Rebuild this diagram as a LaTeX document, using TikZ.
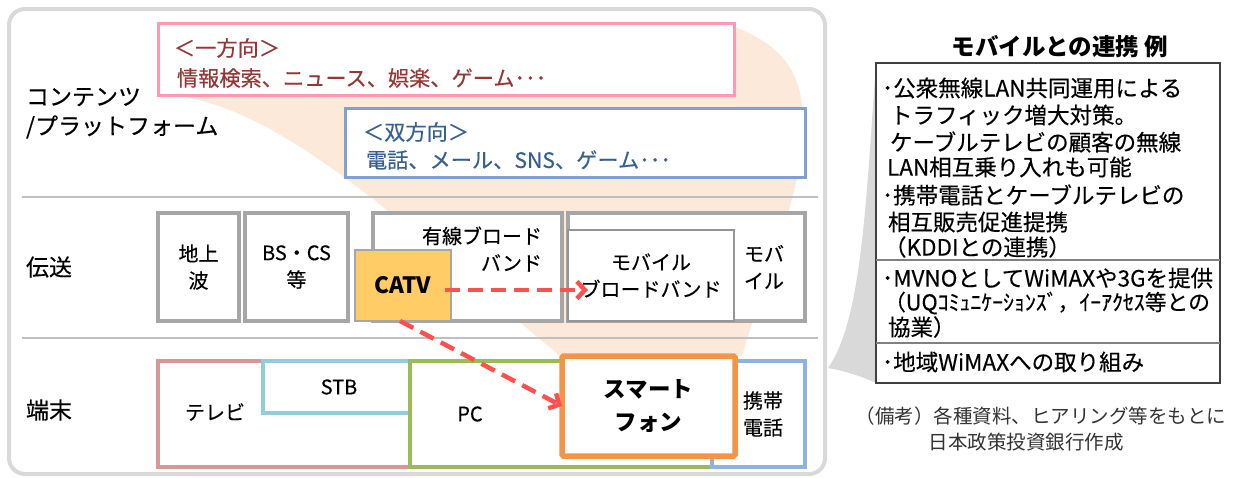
\documentclass[tikz,border=0pt]{standalone}
\usepackage{fontspec}
\setmainfont{Noto Sans CJK JP}
\newfontfamily\jpheavy{Noto Sans CJK JP}[FakeBold=0.35]
\usetikzlibrary{arrows.meta,calc}
\definecolor{mainborder}{HTML}{D9D9D9}
\definecolor{divider}{HTML}{BFBFBF}
\definecolor{peach}{HTML}{FDE9D9}
\definecolor{pinkbox}{HTML}{FF99B3}
\definecolor{pinktext}{HTML}{953735}
\definecolor{bluebox}{HTML}{7EA1CF}
\definecolor{bluetext}{HTML}{376092}
\definecolor{boxgray}{HTML}{A6A6A6}
\definecolor{catvfill}{HTML}{FFCC66}
\definecolor{arrowred}{HTML}{FF5050}
\definecolor{tvcol}{HTML}{D99694}
\definecolor{stbcol}{HTML}{93CDDD}
\definecolor{pccol}{HTML}{9BBB59}
\definecolor{phonecol}{HTML}{8DB3E2}
\definecolor{smartcol}{HTML}{F39548}
\definecolor{panelcol}{HTML}{404040}
\definecolor{paneldiv}{HTML}{808080}
\definecolor{notegray}{HTML}{333333}
\newcommand{\fLabel}{\jpheavy\fontsize{23}{30}\selectfont}
\newcommand{\fTop}{\jpheavy\fontsize{21.2}{25}\selectfont}
\newcommand{\fBox}{\jpheavy\fontsize{20}{27}\selectfont}
\newcommand{\fBig}{\fontsize{22.5}{33}\selectfont\bfseries}
\newcommand{\fPanel}{\jpheavy\fontsize{22.5}{26}\selectfont}
\newcommand{\fNote}{\fontsize{19.5}{26}\selectfont}
\begin{document}
\begin{tikzpicture}[x=1pt,y=-1pt,
  every node/.style={inner sep=0pt, outer sep=0pt},
  gbox/.style={draw=boxgray, line width=3.5pt, fill=white, rectangle, align=center, font=\fBox},
  tbox/.style={line width=3.5pt, fill=white, rectangle, align=center, font=\fBox},
  lab/.style={anchor=west, font=\fLabel},
  ptext/.style={anchor=west, font=\fPanel},
  dasharr/.style={draw=arrowred, line width=4.5pt, dash pattern=on 15pt off 8pt,
     -{Straight Barb[length=8pt,width=17pt]}}
]
\useasboundingbox (0,0) rectangle (1233,477);

% main frame
\draw[draw=mainborder, line width=4pt, fill=white, rounded corners=16pt] (9,9) rectangle (825,474);

% peach funnel
\fill[peach] (165,95) .. controls (280,100) and (420,240) .. (560,356) -- (742,356)
  .. controls (770,260) and (800,200) .. (803,130) .. controls (805,70) and (780,45) .. (735,27)
  -- (165,27) -- cycle;

% dividers
\draw[divider, line width=1.5pt] (22,197) -- (818,197);
\draw[divider, line width=1.5pt] (22,338) -- (818,338);

% callout wedge
\fill[mainborder] (876,63) .. controls (866,200) and (862,320) .. (828,368)
  .. controls (850,372) and (865,378) .. (876,383) -- cycle;

% row labels
\node[lab] (lcont1) at (26,97) {コンテンツ};
\node[lab] (lcont2) at (26,127) {/プラットフォーム};
\node[lab] (ltrans) at (26,267) {伝送};
\node[lab] (lterm) at (26,410) {端末};

% content boxes
\node[draw=pinkbox, line width=3pt, fill=white, minimum width=576pt, minimum height=72pt] (oneway) at (446,59) {};
\node[anchor=west, font=\fTop, text=pinktext] (ow1) at (174,48) {＜一方向＞};
\node[anchor=west, font=\fTop, text=pinktext] (ow2) at (177,78) {情報検索、ニュース、娯楽、ゲーム･･･};
\node[draw=bluebox, line width=3pt, fill=white, minimum width=460pt, minimum height=69pt] (twoway) at (575,142.5) {};
\node[anchor=west, font=\fTop, text=bluetext] (tw1) at (363,132) {＜双方向＞};
\node[anchor=west, font=\fTop, text=bluetext] (tw2) at (366,160) {電話、メール、SNS、ゲーム･･･};

% transmission row
\node[gbox, minimum width=81pt, minimum height=108pt] (chijo) at (198.5,267) {地上\\波};
\node[gbox, minimum width=103pt, minimum height=108pt] (bscs) at (296.5,267) {BS・CS\\等};
\node[gbox, minimum width=189pt, minimum height=108pt] (yusen) at (467.5,267) {};
\node[anchor=east, font=\fBox, align=right] (yusentxt) at (542,249) {有線ブロード\\バンド};
\node[draw=boxgray, line width=2.5pt, fill=catvfill, minimum width=96pt, minimum height=71pt, font=\fBig] (catv) at (403,285.5) {CATV};
\node[gbox, minimum width=237pt, minimum height=108pt] (mobile) at (686.5,267) {};
\node[draw=boxgray!90!black, line width=2pt, fill=white, minimum width=166pt, minimum height=91pt, align=center, font=\fBox] (mbb) at (651,275.5) {モバイル\\ブロードバンド};
\node[anchor=west, font=\fBox, align=left] (mobtxt) at (744,267) {モバ\\イル};

% terminal row
\node[tbox, draw=tvcol, minimum width=272pt, minimum height=106pt] (tv) at (294,414) {};
\node[font=\fBox] (tvtxt) at (215,412) {テレビ};
\node[tbox, draw=stbcol, minimum width=152pt, minimum height=52pt] (stb) at (339,387) {STB};
\node[tbox, draw=pccol, minimum width=302pt, minimum height=106pt] (pc) at (561,414) {};
\node[font=\fBox] (pctxt) at (470,414) {PC};
\node[tbox, draw=phonecol, minimum width=93pt, minimum height=106pt] (phone) at (758.5,414) {};
\node[font=\fBox, align=center] (phonetxt) at (763,414) {携帯\\電話};
\node[draw=smartcol, line width=5.5pt, fill=white, rounded corners=1.5pt, minimum width=173pt, minimum height=100pt, align=center, font=\fBig] (smart) at (648.5,406) {スマート\\フォン};

% arrows
\draw[dasharr] ($(catv.east)+(-6,4.5)$) -- ($(mbb.west)+(20,14.5)$);
\draw[dasharr] ($(catv.south)+(-3,0)$) -- (smart.west);

% right panel
\node[font=\fontsize{23.5}{26}\selectfont\bfseries] (ptitle) at (1060,47) {モバイルとの連携 例};
\node[draw=panelcol, line width=2pt, fill=white, minimum width=344pt, minimum height=320pt] (panel) at (1048,223) {};
\draw[paneldiv, line width=1.5pt] (panel.west |- 0,260) -- (panel.east |- 0,260);
\draw[paneldiv, line width=1.5pt] (panel.west |- 0,343) -- (panel.east |- 0,343);
\node[ptext] (t1) at (882,88) {･公衆無線LAN共同運用による};
\node[ptext] (t2) at (890,115) {トラフィック増大対策。};
\node[ptext] (t3) at (890,142) {ケーブルテレビの顧客の無線};
\node[ptext] (t4) at (887,167) {LAN相互乗り入れも可能};
\node[ptext] (t5) at (882,195) {･携帯電話とケーブルテレビの};
\node[ptext] (t6) at (888,222) {相互販売促進提携};
\node[ptext] (t7) at (884,247) {（KDDIとの連携）};
\node[ptext] (t8) at (882,278) {･MVNOとしてWiMAXや3Gを提供};
\node[ptext, font=\jpheavy\fontsize{21.8}{26}\selectfont] (t9) at (884,303) {（UQｺﾐｭﾆｹｰｼｮﾝｽﾞ，ｲｰｱｸｾｽ等との};
\node[ptext] (t10) at (888,327) {協業）};
\node[ptext] (t11) at (882,362) {･地域WiMAXへの取り組み};

% note
\node[font=\fNote, text=notegray] (note1) at (1041,416) {（備考）各種資料、ヒアリング等をもとに};
\node[font=\fNote, text=notegray] (note2) at (1026,442) {日本政策投資銀行作成};
\end{tikzpicture}
\end{document}
